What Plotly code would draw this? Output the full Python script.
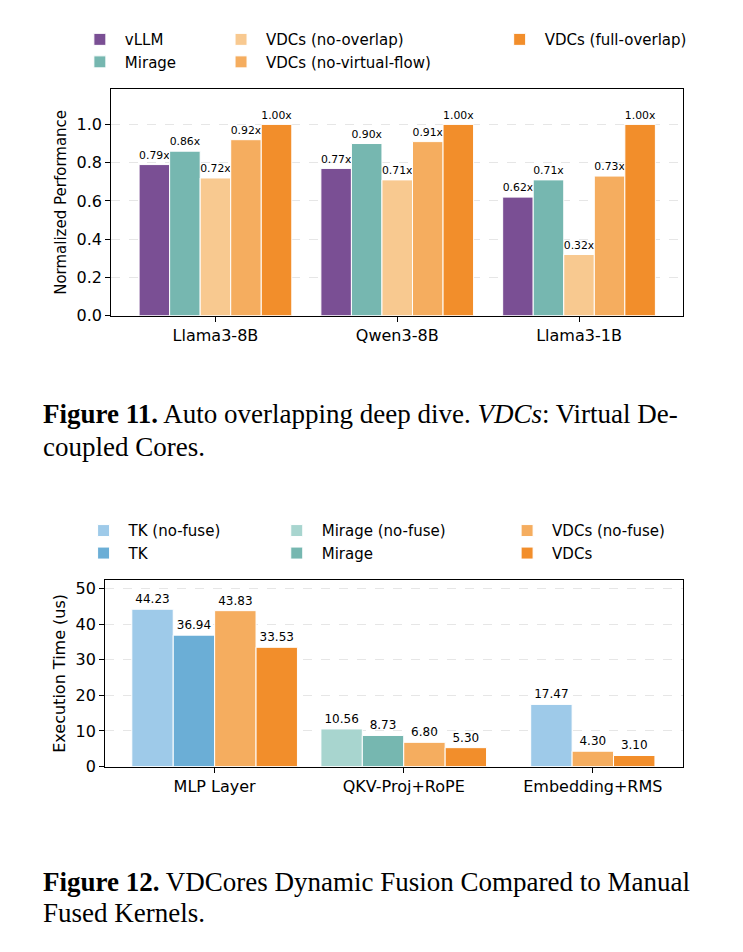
import plotly.graph_objects as go

# --- Figure 11 data
models = ["Llama3-8B", "Qwen3-8B", "Llama3-1B"]
vllm = [0.79, 0.77, 0.62]
mirage = [0.86, 0.90, 0.71]
no_overlap = [0.72, 0.71, 0.32]
no_vflow = [0.92, 0.91, 0.73]
full_overlap = [1.00, 1.00, 1.00]

# --- Figure 12 data (None = not measured)
kernels = ["MLP Layer", "QKV-Proj+RoPE", "Embedding+RMS"]
tk_nofuse = [44.23, None, 17.47]
tk = [36.94, None, None]
mirage_nofuse = [None, 10.56, None]
mirage_fuse = [None, 8.73, None]
vdcs_nofuse = [43.83, 6.80, 4.30]
vdcs = [33.53, 5.30, 3.10]

FONT = "DejaVu Sans"
fig = go.Figure()

top = [("vLLM", vllm, "#7a4f94", "legend"),
       ("Mirage", mirage, "#76b7b0", "legend"),
       ("VDCs (no-overlap)", no_overlap, "#f8c990", "legend2"),
       ("VDCs (no-virtual-flow)", no_vflow, "#f5ad5f", "legend2"),
       ("VDCs (full-overlap)", full_overlap, "#f28e2b", "legend3")]
w1 = 0.168
for i, (name, vals, col, lg) in enumerate(top):
    xs = [g + (i - 2) * w1 for g in range(len(models))]
    fig.add_trace(go.Bar(x=xs, y=vals, width=w1, name=name, marker_color=col,
                         marker_line=dict(color="white", width=1),
                         text=[f"{v:.2f}x" for v in vals], textposition="outside",
                         textfont=dict(size=12, color="black", family=FONT),
                         cliponaxis=False, legend=lg, xaxis="x", yaxis="y"))

bottom = [("TK (no-fuse)", tk_nofuse, "#9ecae9", "legend4"),
          ("TK", tk, "#6baed6", "legend4"),
          ("Mirage (no-fuse)", mirage_nofuse, "#a8d5cf", "legend5"),
          ("Mirage", mirage_fuse, "#76b7b0", "legend5"),
          ("VDCs (no-fuse)", vdcs_nofuse, "#f5ad5f", "legend6"),
          ("VDCs", vdcs, "#f28e2b", "legend6")]
w2 = 0.219
present = [[k for k, s in enumerate(bottom) if s[1][g] is not None] for g in range(len(kernels))]
for k, (name, vals, col, lg) in enumerate(bottom):
    xs, ys = [], []
    for g in range(len(kernels)):
        if vals[g] is None:
            continue
        idx = present[g].index(k)
        n = len(present[g])
        xs.append(g + (idx - (n - 1) / 2) * w2)
        ys.append(vals[g])
    fig.add_trace(go.Bar(x=xs, y=ys, width=w2, name=name, marker_color=col,
                         marker_line=dict(color="white", width=1),
                         text=[f"{v:.2f}" for v in ys], textposition="outside",
                         textfont=dict(size=12, color="black", family=FONT),
                         cliponaxis=False, legend=lg, xaxis="x2", yaxis="y2"))

ax = dict(showline=True, linecolor="black", linewidth=1.3, mirror=True,
          ticks="outside", ticklen=5, tickcolor="black", zeroline=False,
          tickfont=dict(size=16, color="black", family=FONT))
fig.update_layout(
    width=743, height=952, margin=dict(l=0, r=0, t=0, b=0),
    plot_bgcolor="white", paper_bgcolor="white", barmode="overlay",
    font=dict(family=FONT, color="black"),
    xaxis=dict(ax, domain=[0.139, 0.908], range=[-0.573, 2.57], anchor="y",
               tickvals=[0, 1, 2], ticktext=models, showgrid=False),
    yaxis=dict(ax, domain=[0.674, 0.915], range=[0, 1.185], dtick=0.2, tickformat=".1f",
               anchor="x", showgrid=True, gridcolor="#e6e6e6", griddash="dash",
               title=dict(text="Normalized Performance", font=dict(size=15), standoff=6)),
    xaxis2=dict(ax, domain=[0.131, 0.908], range=[-0.578, 2.475], anchor="y2",
                tickvals=[0, 1, 2], ticktext=kernels, showgrid=False),
    yaxis2=dict(ax, domain=[0.195, 0.393], range=[0, 52.4], dtick=10, anchor="x2",
                showgrid=True, gridcolor="#e6e6e6", griddash="dash",
                title=dict(text="Execution Time (us)", font=dict(size=16), standoff=6)),
)
leg = dict(yanchor="top", xanchor="left", bgcolor="rgba(0,0,0,0)",
           font=dict(size=15, family=FONT), tracegroupgap=0, itemwidth=40)
fig.update_layout(
    legend=dict(leg, x=0.09, y=0.985),
    legend2=dict(leg, x=0.28, y=0.985),
    legend3=dict(leg, x=0.655, y=0.985),
    legend4=dict(leg, x=0.095, y=0.463),
    legend5=dict(leg, x=0.355, y=0.463),
    legend6=dict(leg, x=0.665, y=0.463),
)

cap = dict(xref="paper", yref="paper", xanchor="left", yanchor="middle", showarrow=False,
           font=dict(family="Liberation Serif", size=27, color="black"), x=0.045)
fig.add_annotation(cap, y=1 - 410 / 952,
                   text="<b>Figure 11.</b> Auto overlapping deep dive. <i>VDCs</i>: Virtual De-")
fig.add_annotation(cap, y=1 - 443 / 952, text="coupled Cores.")
fig.add_annotation(cap, y=1 - 883 / 952,
                   text="<b>Figure 12.</b> VDCores Dynamic Fusion Compared to Manual")
fig.add_annotation(cap, y=1 - 915 / 952, text="Fused Kernels.")

fig.write_html("out.html")
